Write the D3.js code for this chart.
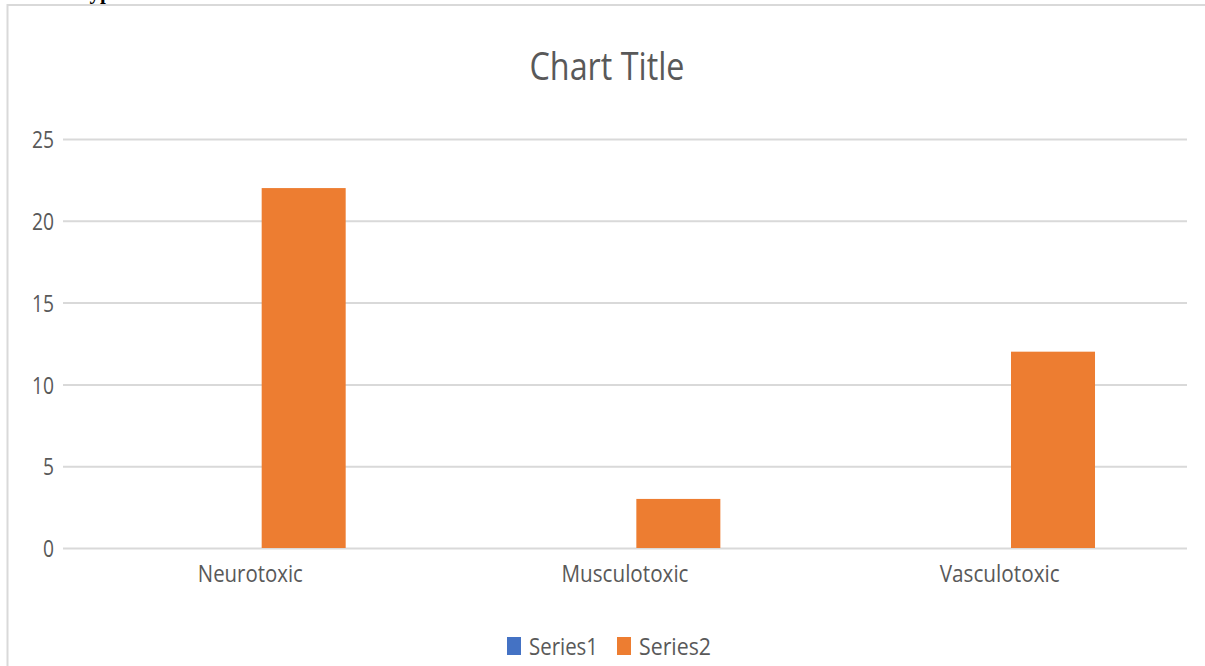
<!DOCTYPE html>
<html>
<head>
<meta charset="utf-8">
<script src="https://cdn.jsdelivr.net/npm/d3@7"></script>
<style>
  html, body { margin: 0; padding: 0; background: #fff; }
  svg { display: block; }
  text { font-family: "Open Sans", "Noto Sans", sans-serif; fill: #595959; }
</style>
</head>
<body>
<svg id="chart" width="1205" height="666"></svg>
<script>
// Venom effect categories and counts per series
const categories = ["Neurotoxic", "Musculotoxic", "Vasculotoxic"];
const seriesNames = ["Series1", "Series2"];
const series1 = [0, 0, 0];
const series2 = [22, 3, 12];
const yTicks = [0, 5, 10, 15, 20, 25];
const chartTitle = "Chart Title";
const headingText = "Types";

const colors = { Series1: "#4472C4", Series2: "#ED7D31" };

const svg = d3.select("#chart");
const W = 1205, H = 666;
const plot = { left: 63, right: 1187, top: 139, bottom: 548 };

// Heading of the page above the chart frame (only its lower edge shows)
svg.append("text")
  .attr("x", 77).attr("y", -1)
  .style("font-family", "'Liberation Serif', 'Times New Roman', serif")
  .style("font-weight", "bold")
  .style("font-size", "21px")
  .style("fill", "#000")
  .text(headingText);

// Chart frame (top and left edges visible)
svg.append("path")
  .attr("d", `M7.5,${H} L7.5,5 L${W},5`)
  .attr("fill", "none")
  .attr("stroke", "#d9d9d9")
  .attr("stroke-width", 2);

// Title
svg.append("text")
  .attr("x", 607).attr("y", 80)
  .attr("text-anchor", "middle")
  .style("font-size", "38px")
  .attr("textLength", 155)
  .attr("lengthAdjust", "spacingAndGlyphs")
  .text(chartTitle);

// Scales
const y = d3.scaleLinear().domain([0, 25]).range([plot.bottom, plot.top]);
const x0 = d3.scaleBand().domain(categories).range([plot.left, plot.right]).paddingInner(0).paddingOuter(0);
// Gap width 219%, series overlap -27%
const barW = x0.bandwidth() / (2 + 0.27 + 2.19);
const groupW = barW * 2.27;
const x1 = d3.scaleBand().domain(seriesNames).range([0, groupW]).paddingInner(0.27 / 1.27).paddingOuter(0);

// Gridlines + y labels
const yAxis = d3.axisLeft(y)
  .tickValues(yTicks)
  .tickSize(-(plot.right - plot.left))
  .tickPadding(9)
  .tickFormat(d3.format("d"));

const gy = svg.append("g")
  .attr("transform", `translate(${plot.left},0)`)
  .call(yAxis);
gy.select(".domain").remove();
gy.selectAll(".tick line").attr("stroke", "#d9d9d9").attr("stroke-width", 2);
gy.selectAll(".tick text")
  .style("font-size", "24px")
  .attr("fill", "#595959")
  .attr("dy", "0.36em")
  .attr("textLength", d => String(d).length * 11)
  .attr("lengthAdjust", "spacingAndGlyphs")
  .style("font-family", "'Open Sans', sans-serif");

// Bars
const data = categories.map((c, i) => ({ cat: c, values: [
  { s: "Series1", v: series1[i] },
  { s: "Series2", v: series2[i] }
]}));

const groups = svg.append("g").selectAll("g")
  .data(data)
  .join("g")
  .attr("transform", d => `translate(${x0(d.cat) + (x0.bandwidth() - groupW) / 2},0)`);

groups.selectAll("rect")
  .data(d => d.values)
  .join("rect")
  .attr("x", d => x1(d.s))
  .attr("width", x1.bandwidth())
  .attr("y", d => y(d.v))
  .attr("height", d => y(0) - y(d.v))
  .attr("fill", d => colors[d.s]);

// Category labels
const catWidths = { Neurotoxic: 105, Musculotoxic: 127, Vasculotoxic: 120 };
svg.append("g").selectAll("text")
  .data(categories)
  .join("text")
  .attr("x", d => x0(d) + x0.bandwidth() / 2)
  .attr("y", 582)
  .attr("text-anchor", "middle")
  .style("font-size", "24px")
  .attr("textLength", d => catWidths[d])
  .attr("lengthAdjust", "spacingAndGlyphs")
  .text(d => d);

// Legend
const legend = svg.append("g");
const legendItems = [
  { name: "Series1", x: 507, w: 69 },
  { name: "Series2", x: 617, w: 72 }
];
legendItems.forEach(it => {
  legend.append("rect")
    .attr("x", it.x).attr("y", 637)
    .attr("width", 14).attr("height", 18)
    .attr("fill", colors[it.name]);
  legend.append("text")
    .attr("x", it.x + 22).attr("y", 655)
    .style("font-size", "24px")
    .attr("textLength", it.w)
    .attr("lengthAdjust", "spacingAndGlyphs")
    .text(it.name);
});
</script>
</body>
</html>
